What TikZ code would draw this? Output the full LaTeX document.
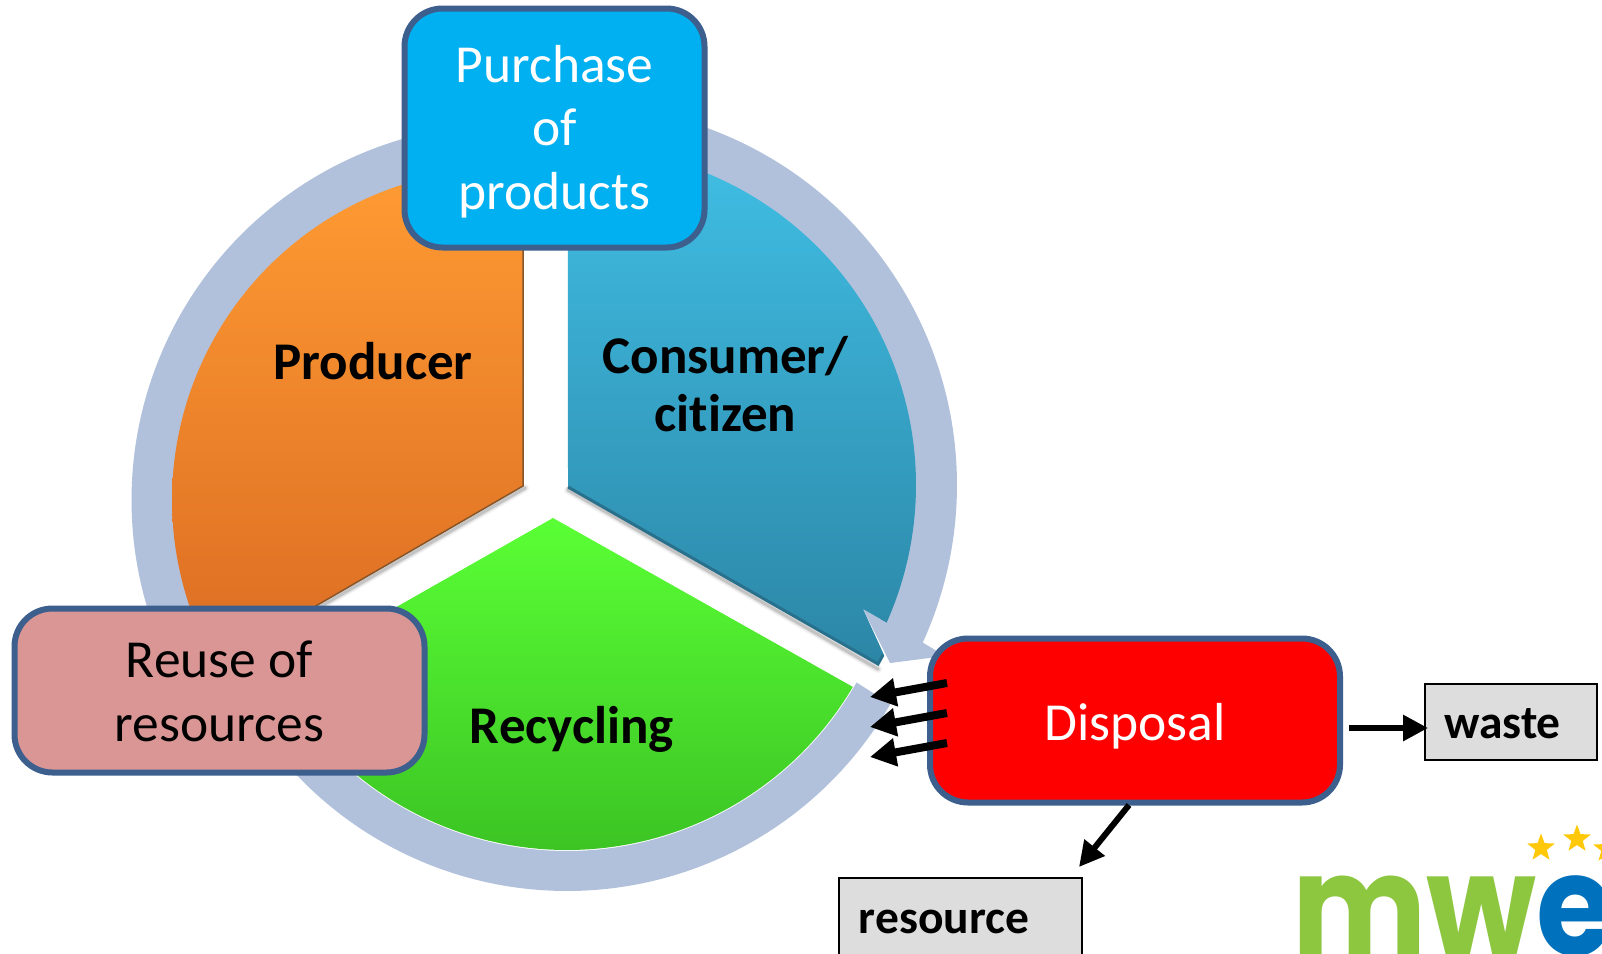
\documentclass[tikz,border=0pt]{standalone}
\usepackage{fontspec}
\usepackage{graphicx}
\usetikzlibrary{arrows.meta,shapes.geometric}
\setmainfont{Carlito}[Ligatures=NoCommon]
\newfontfamily\logofont{Poppins}
\definecolor{ringc}{HTML}{B2C1DB}
\definecolor{edgec}{HTML}{3C5F8E}
\definecolor{grayc}{HTML}{DDDDDD}
\definecolor{starc}{HTML}{FFC90A}
\definecolor{logog}{HTML}{8DC63F}
\definecolor{logob}{HTML}{0071BC}
\newcommand{\lowered}[2]{\raisebox{-#1pt}[0pt][0pt]{\begin{tabular}[c]{@{}c@{}}#2\end{tabular}}}
\tikzset{
  bigbox/.style={draw=edgec,line width=6pt,rounded corners=38pt,align=center,inner sep=0pt,outer sep=0pt,font=\fontsize{53.5}{63.5}\selectfont},
  smallbox/.style={draw=black,line width=2pt,fill=grayc,inner sep=0pt,outer sep=0pt,font=\bfseries\fontsize{47.5}{50}\selectfont},
  seclabel/.style={align=center,inner sep=0pt,font=\bfseries\fontsize{53}{58}\selectfont},
  fatarrow/.style={line width=8pt,-{Triangle[length=26pt,width=27pt]}},
  outarrow/.style={line width=6pt,-{Triangle[length=25pt,width=25pt]}},
  logostar/.style={star,star points=5,star point ratio=2.4,fill=starc,inner sep=0pt,minimum size=29pt},
  softshadow/.style={draw=black,line cap=round}
}
\begin{document}
\begin{tikzpicture}[x=1pt,y=-1pt]
\useasboundingbox (0,0) rectangle (1602,953);
\clip (0,0) rectangle (1602,953);
\fill[white] (0,0) rectangle (1602,953);
% ring pieces
\fill[ringc] plot[domain=-95:24.5,samples=120,variable=\t] ({577+380*cos(\t)},{485+380*sin(\t)})
  -- (945,656) -- (890,663) -- (863,609) -- (887,623)
  -- plot[domain=24.1:-95,samples=120,variable=\t] ({579+330*cos(\t)},{485+330*sin(\t)}) -- cycle;
\fill[ringc] plot[domain=156.5:265,samples=100,variable=\t] ({507.5+376*cos(\t)},{500+376*sin(\t)})
  -- plot[domain=265:156.5,samples=100,variable=\t] ({505+325*cos(\t)},{500+325*sin(\t)}) -- cycle;
\fill[ringc] plot[domain=29.9:139.5,samples=120,variable=\t] ({567+373*cos(\t)},{518+373*sin(\t)})
  -- plot[domain=139.5:29.6,samples=120,variable=\t] ({567+333*cos(\t)},{518+333*sin(\t)}) -- cycle;
% shadows
\foreach \w/\o in {8/0.05,5/0.08,3/0.12}{
  \draw[softshadow,line width=\w pt,opacity=\o] (525,488) -- (285,627);
  \draw[softshadow,line width=\w pt,opacity=\o] (568,490) -- (878,669);
}
% orange sector
\shade[top color={rgb,255:red,255;green,155;blue,51},bottom color={rgb,255:red,222;green,112;blue,36}]
  (523,486) -- plot[domain=273.5:157.8,samples=120,variable=\t] ({503+331*cos(\t)},{500+331*sin(\t)}) -- (283,625) -- cycle;
\draw[line width=1.5pt,color={rgb,255:red,135;green,85;blue,40}] (523,245) -- (523,486) -- (283,625);
% teal sector
\shade[top color={rgb,255:red,64;green,190;blue,228},bottom color={rgb,255:red,44;green,134;blue,166}]
  (568,486) -- plot[domain=-91.9:24.1,samples=120,variable=\t] ({579+337*cos(\t)},{485+337*sin(\t)}) -- (863,609) -- (884,655) -- (878,665) -- cycle;
\draw[line width=3pt,color={rgb,255:red,40;green,112;blue,140}] (568,487) -- (878,664) -- (883,655);
% green sector
\shade[top color={rgb,255:red,90;green,255;blue,53},middle color={rgb,255:red,84;green,240;blue,50},bottom color={rgb,255:red,60;green,196;blue,36}]
  (553,518) -- (853,687) -- plot[domain=30.6:145,samples=120,variable=\t] ({567+332*cos(\t)},{518+332*sin(\t)}) -- (370,622) -- cycle;
% labels in sectors
\node[seclabel] (producer) at (373,361) {Producer};
\node[seclabel] (consumer) at (725.5,384) {Consumer/\\citizen};
\node[seclabel] (recycling) at (572,729) {Recycling};
% boxes
\node[bigbox,fill={rgb,255:red,0;green,176;blue,240},text=white,minimum width=300pt,minimum height=239pt] (purchase) at (554.5,128) {\lowered{11.5}{Purchase\\of\\products}};
\node[bigbox,fill={rgb,255:red,217;green,150;blue,148},text=black,minimum width=410pt,minimum height=164pt] (reuse) at (219.5,690.5) {\lowered{12.7}{Reuse of\\resources}};
\node[bigbox,fill=red,text=white,minimum width=410pt,minimum height=164pt] (disposal) at (1135,720.5) {\lowered{13.6}{Disposal}};
\node[smallbox,minimum width=172pt,minimum height=76pt] (waste) at (1510.5,721.5) {\lowered{13.7}{\hspace{-16pt}waste}};
\node[smallbox,minimum width=243pt,minimum height=110pt,anchor=north west] (resource) at (839,878) {};
\node[font=\bfseries\fontsize{47.5}{50}\selectfont,inner sep=0pt] (resourcetext) at (944,922) {resource};
% arrows
\coordinate (d1) at (947,683); \coordinate (r1) at (870,697);
\coordinate (d2) at (947,713); \coordinate (r2) at (870,727);
\coordinate (d3) at (947,743); \coordinate (r3) at (870,757);
\coordinate (dw) at (1349,728); \coordinate (wi) at (1428,728);
\coordinate (dr) at (1129,805); \coordinate (ri) at (1079,867);
\draw[fatarrow] (d1) -- (r1);
\draw[fatarrow] (d2) -- (r2);
\draw[fatarrow] (d3) -- (r3);
\draw[outarrow] (dw) -- (wi);
\draw[outarrow] (dr) -- (ri);
% logo
\node[logostar] (s1) at (1541,848) {};
\node[logostar] (s2) at (1577,839) {};
\node[logostar] (s3) at (1607,849) {};
\node[anchor=base west,inner sep=0pt,font=\logofont\bfseries\fontsize{141}{141}\selectfont] (logo) at (1292,955) {\scalebox{0.9}[1]{\textcolor{logog}{mw}\textcolor{logob}{e}}};
\end{tikzpicture}
\end{document}
